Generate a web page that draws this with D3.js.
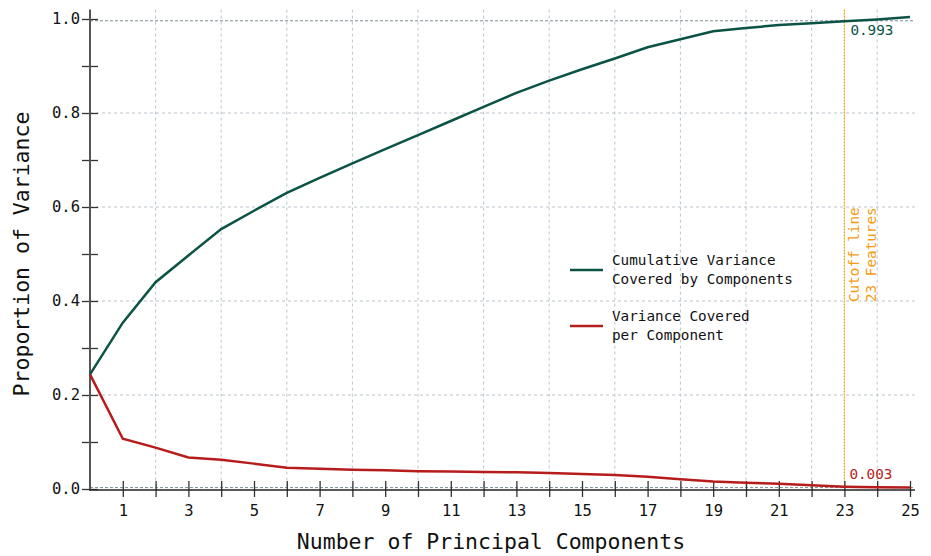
<!DOCTYPE html>
<html>
<head>
<meta charset="utf-8">
<script src="https://cdn.jsdelivr.net/npm/d3@7"></script>
<style>
  body { margin: 0; background: #fff; }
  text { font-family: "DejaVu Sans Mono", monospace; }
</style>
</head>
<body>
<div id="chart"></div>
<script>
// component index 0..25
var components = d3.range(0, 26);
// cumulative variance covered by components
var cumulative = [0.244, 0.354, 0.440, 0.497, 0.553, 0.592, 0.630, 0.662, 0.693, 0.723,
                  0.753, 0.783, 0.813, 0.843, 0.869, 0.893, 0.916, 0.940, 0.957, 0.974,
                  0.981, 0.987, 0.991, 0.995, 0.999, 1.004];
// variance covered per component
var perComponent = [0.244, 0.107, 0.088, 0.067, 0.062, 0.054, 0.045, 0.043, 0.041, 0.040,
                    0.038, 0.037, 0.036, 0.0355, 0.034, 0.032, 0.030, 0.026, 0.021, 0.016,
                    0.0135, 0.011, 0.008, 0.005, 0.0035, 0.003];
var xTickLabels = [1, 3, 5, 7, 9, 11, 13, 15, 17, 19, 21, 23, 25];
var cutoff = 23;
var cutoffCum = 0.993;
var cutoffPer = 0.003;

var width = 931, height = 556;
var svg = d3.select("#chart").append("svg")
    .attr("width", width)
    .attr("height", height);

var x = d3.scaleLinear().domain([0, 25]).range([90, 910]);
var y = d3.scaleLinear().domain([0, 1]).range([489, 19]);
var yTop = y(1.02), xRight = x(25.15);

var green = "#0b5345", red = "#b71c1c", orange = "#f39c12";

//grid: vertical at even numbers, horizontal at 0.2 steps
svg.append("g").selectAll("line.vg")
    .data(d3.range(2, 26, 2))
    .enter().append("line")
    .attr("x1", function (d) { return x(d); })
    .attr("x2", function (d) { return x(d); })
    .attr("y1", yTop).attr("y2", y(0))
    .style("stroke", "#b8c4cc").style("stroke-width", 1)
    .style("stroke-dasharray", "3,3");

svg.append("g").selectAll("line.hg")
    .data([0.2, 0.4, 0.6, 0.8])
    .enter().append("line")
    .attr("x1", x(0)).attr("x2", xRight)
    .attr("y1", function (d) { return y(d); })
    .attr("y2", function (d) { return y(d); })
    .style("stroke", "#b8c4cc").style("stroke-width", 1)
    .style("stroke-dasharray", "3,3");

//reference lines at the cutoff values
svg.append("g").selectAll("line.ref")
    .data([cutoffCum, cutoffPer])
    .enter().append("line")
    .attr("x1", x(0)).attr("x2", xRight)
    .attr("y1", function (d) { return y(d) + (d > 0.5 ? -1.5 : 0); })
    .attr("y2", function (d) { return y(d) + (d > 0.5 ? -1.5 : 0); })
    .style("stroke", "#7d8c96").style("stroke-width", 1)
    .style("stroke-dasharray", "3,2");

//cutoff line
svg.append("line")
    .attr("x1", x(cutoff)).attr("x2", x(cutoff))
    .attr("y1", yTop).attr("y2", y(0))
    .style("stroke", orange).style("stroke-width", 1.2)
    .style("stroke-dasharray", "2,1");

//axes
var yAxis = d3.axisLeft(y)
    .tickValues(d3.range(0, 11).map(function (i) { return i / 10; }))
    .tickSize(8)
    .tickFormat(function (d) {
        var i = Math.round(d * 10);
        return i % 2 === 0 ? d3.format(".1f")(d) : "";
    });
var gy = svg.append("g").attr("transform", "translate(" + x(0) + ",0)").call(yAxis);
gy.select(".domain").remove();
gy.selectAll(".tick line").attr("x1", 8).attr("x2", -8).style("stroke", "#333").style("stroke-width", 1.3);
gy.selectAll(".tick text").attr("x", -10).attr("dy", "0.3em")
    .style("font-size", "15.5px").style("fill", "#111")
    .style("font-family", "DejaVu Sans Mono, monospace");

var xAxis = d3.axisBottom(x)
    .tickValues(d3.range(1, 26))
    .tickSize(8)
    .tickFormat(function (d) { return xTickLabels.indexOf(d) >= 0 ? d : ""; });
var gx = svg.append("g").attr("transform", "translate(0," + y(0) + ")").call(xAxis);
gx.select(".domain").remove();
gx.selectAll(".tick line").attr("y1", -8).attr("y2", 8).style("stroke", "#333").style("stroke-width", 1.3);
gx.selectAll(".tick text").attr("y", 16).attr("dy", "0.71em")
    .style("font-size", "15.5px").style("fill", "#111")
    .style("font-family", "DejaVu Sans Mono, monospace");

svg.append("line")
    .attr("x1", x(0)).attr("x2", x(0)).attr("y1", yTop).attr("y2", y(0) + 1)
    .style("stroke", "#555").style("stroke-width", 2);
svg.append("line")
    .attr("x1", x(0) - 1).attr("x2", xRight).attr("y1", y(0) + 1).attr("y2", y(0) + 1)
    .style("stroke", "#222").style("stroke-width", 1.5);

//lines
var line = d3.line()
    .x(function (d) { return x(d[0]); })
    .y(function (d) { return y(d[1]); });

svg.append("path")
    .datum(components.map(function (c, i) { return [c, perComponent[i]]; }))
    .attr("d", line)
    .style("fill", "none").style("stroke", red).style("stroke-width", 2.5);

svg.append("path")
    .datum(components.map(function (c, i) { return [c, cumulative[i]]; }))
    .attr("d", line)
    .style("fill", "none").style("stroke", green).style("stroke-width", 2.5);

//value labels at the cutoff
svg.append("text")
    .attr("x", x(cutoff) + 6).attr("y", y(cutoffCum) + 13)
    .style("font-size", "14.3px").style("fill", green)
    .text(d3.format(".3f")(cutoffCum));
svg.append("text")
    .attr("x", x(cutoff) + 5).attr("y", y(cutoffPer) - 9)
    .style("font-size", "14.3px").style("fill", red)
    .text(d3.format(".3f")(cutoffPer));

//cutoff label
var cut = svg.append("text")
    .attr("transform", "translate(" + (x(cutoff) + 15) + "," + 302 + ") rotate(-90)")
    .style("font-size", "14.3px").style("fill", orange);
cut.append("tspan").attr("x", 0).attr("dy", 0).text("Cutoff line");
cut.append("tspan").attr("x", 0).attr("dy", 16.5).text(cutoff + " Features");

//legend
var legend = [
    {color: green, lines: ["Cumulative Variance", "Covered by Components"], y: 270},
    {color: red, lines: ["Variance Covered", "per Component"], y: 326}
];
var lg = svg.append("g").selectAll("g").data(legend).enter().append("g");
lg.append("line")
    .attr("x1", 570).attr("x2", 603)
    .attr("y1", function (d) { return d.y; })
    .attr("y2", function (d) { return d.y; })
    .style("stroke", function (d) { return d.color; })
    .style("stroke-width", 2.5);
lg.each(function (d) {
    var t = d3.select(this).append("text")
        .attr("x", 612).attr("y", d.y - 5)
        .style("font-size", "14.3px").style("fill", "#111");
    d.lines.forEach(function (s, i) {
        t.append("tspan").attr("x", 612).attr("dy", i === 0 ? 0 : 19).text(s);
    });
});

//axis titles
svg.append("text")
    .attr("x", 491).attr("y", 549)
    .attr("text-anchor", "middle")
    .style("font-size", "21.5px").style("fill", "#111")
    .text("Number of Principal Components");
svg.append("text")
    .attr("transform", "translate(29,254) rotate(-90)")
    .attr("text-anchor", "middle")
    .style("font-size", "21.5px").style("fill", "#111")
    .text("Proportion of Variance");
</script>
</body>
</html>
